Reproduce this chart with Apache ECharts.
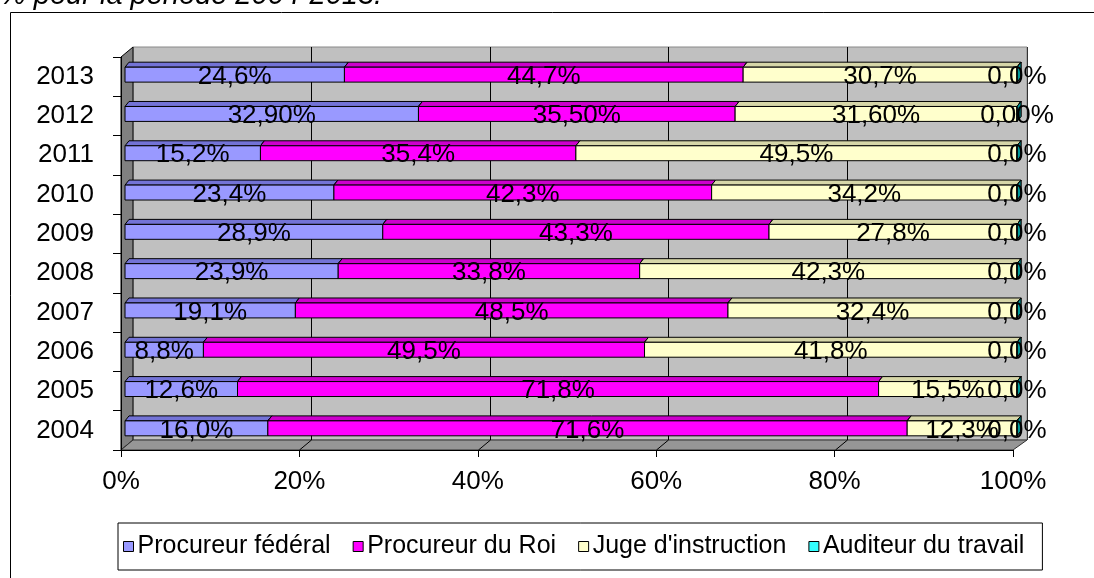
<!DOCTYPE html>
<html>
<head>
<meta charset="utf-8">
<script src="https://cdn.jsdelivr.net/npm/echarts@6/dist/echarts.min.js"></script>
<style>
html,body{margin:0;padding:0;background:#fff;}
#chart{width:1094px;height:578px;}
</style>
</head>
<body>
<div id="chart"></div>
<script>
const years = ['2004','2005','2006','2007','2008','2009','2010','2011','2012','2013'];
const procureurFederal = [16.0, 12.6, 8.8, 19.1, 23.9, 28.9, 23.4, 15.2, 32.90, 24.6];
const procureurDuRoi   = [71.6, 71.8, 49.5, 48.5, 33.8, 43.3, 42.3, 35.4, 35.50, 44.7];
const jugeInstruction  = [12.3, 15.5, 41.8, 32.4, 42.3, 27.8, 34.2, 49.5, 31.60, 30.7];
const auditeurTravail  = [0, 0, 0, 0, 0, 0, 0, 0, 0, 0];
const labelDecimals    = [1, 1, 1, 1, 1, 1, 1, 1, 2, 1];
const seriesNames = ['Procureur fédéral', 'Procureur du Roi', "Juge d'instruction", 'Auditeur du travail'];
const xTicks = [0, 20, 40, 60, 80, 100];
const titleText = '% pour la période 2004-2013.';

const FONT = "'Liberation Sans', Arial, sans-serif";
const palette = [
  {front: '#9999ff', top: '#7373d6', side: '#6666cc'},
  {front: '#ff00ff', top: '#cc00cc', side: '#aa00aa'},
  {front: '#ffffcc', top: '#d6d6a8', side: '#cccc99'},
  {front: '#33ffff', top: '#00b3b3', side: '#009999'}
];
const allValues = [procureurFederal, procureurDuRoi, jugeInstruction, auditeurTravail];

// 100% stacking
const totals = years.map((_, i) => allValues.reduce((s, arr) => s + arr[i], 0));
const stacked = [];
const cum = years.map(() => 0);
allValues.forEach((arr, si) => {
  stacked.push(years.map((_, i) => {
    const start = cum[i] / totals[i] * 100;
    cum[i] += arr[i];
    const end = cum[i] / totals[i] * 100;
    const lbl = arr[i].toFixed(labelDecimals[i]).replace('.', ',') + '%';
    return [i, start, end, lbl];
  }));
});

const DX = 12, DY = -10; // wall depth

function frameItem(params, api) {
  const cs = params.coordSys;
  const L = cs.x, T = cs.y, R = cs.x + cs.width, B = cs.y + cs.height;
  const children = [];
  children.push({type: 'polygon', shape: {points: [[L + DX, T + DY], [R + DX + 2, T + DY], [R + DX + 2, B + DY], [L + DX, B + DY]]},
    style: {fill: '#c0c0c0', stroke: '#888', lineWidth: 1}});
  children.push({type: 'line', shape: {x1: R + DX + 2.5, y1: T + DY, x2: R + DX + 2.5, y2: B + DY},
    style: {stroke: '#333', lineWidth: 1}});
  children.push({type: 'polygon', shape: {points: [[L, T], [L + DX, T + DY], [L + DX, B + DY], [L, B]]},
    style: {fill: '#808080', stroke: '#000', lineWidth: 1}});
  children.push({type: 'polygon', shape: {points: [[L, B], [L + DX, B + DY], [R + DX + 2, B + DY], [R, B]]},
    style: {fill: '#969696', stroke: '#333', lineWidth: 1}});
  xTicks.slice(1, -1).forEach(v => {
    const x = Math.round(api.coord([v, 0])[0]) + 0.5;
    children.push({type: 'polyline', shape: {points: [[x + DX, T + DY], [x + DX, B + DY], [x, B]]},
      style: {fill: null, stroke: '#000', lineWidth: 1}});
  });
  return {type: 'group', children};
}

function barItemFactory(si) {
  const c = palette[si];
  return function (params, api) {
    const cat = api.value(0), s = api.value(1), e = api.value(2);
    const lbl = stacked[si][params.dataIndex][3];
    const a = api.coord([s, cat]), b = api.coord([e, cat]);
    const band = api.size([0, 1])[1];
    const h = band * 0.38;
    const ox = 4, oy = -2, dx = 4, dy = -5;
    const x0 = a[0] + ox, x1 = b[0] + ox, yc = a[1] + oy;
    const top = yc - h / 2, bot = yc + h / 2;
    return {
      type: 'group',
      children: [
        {type: 'polygon', shape: {points: [[x0, top], [x0 + dx, top + dy], [x1 + dx, top + dy], [x1, top]]},
          style: {fill: c.top, stroke: '#000', lineWidth: 1}},
        {type: 'polygon', shape: {points: [[x1, top], [x1 + dx, top + dy], [x1 + dx, bot + dy], [x1, bot]]},
          style: {fill: c.side, stroke: '#000', lineWidth: 1}},
        {type: 'rect', shape: {x: x0, y: top, width: Math.max(0, x1 - x0), height: h},
          style: {fill: c.front, stroke: '#000', lineWidth: 1}},
        {type: 'text', z2: 100, style: {text: lbl, x: (x0 + x1) / 2, y: yc + 2, align: 'center', verticalAlign: 'middle',
          fontSize: 26, fontFamily: FONT, fill: '#000'}}
      ]
    };
  };
}

const chart = echarts.init(document.getElementById('chart'), null, {renderer: 'canvas'});
const series = [{
  type: 'custom', name: '__frame', z: 1, silent: true,
  renderItem: frameItem, data: [[0, 0]], encode: {x: 1, y: 0}
}];
seriesNames.forEach((name, si) => {
  series.push({
    type: 'custom', name, z: 2,
    itemStyle: {color: palette[si].front},
    renderItem: barItemFactory(si),
    data: stacked[si].map(d => [d[0], d[1], d[2]]),
    encode: {x: [1, 2], y: 0}
  });
});

chart.setOption({
  animation: false,
  backgroundColor: '#fff',
  textStyle: {fontFamily: FONT},
  grid: {left: 121, top: 57, width: 892, height: 393},
  xAxis: {
    type: 'value', min: 0, max: 100, interval: 20, z: 5,
    axisLine: {show: true, lineStyle: {color: '#000', width: 1}},
    axisTick: {show: true, length: 7, lineStyle: {color: '#000'}},
    splitLine: {show: false},
    axisLabel: {formatter: '{value}%', fontSize: 26, color: '#000', margin: 19, fontFamily: FONT}
  },
  yAxis: {
    type: 'category', data: years, z: 5,
    axisLine: {show: true, lineStyle: {color: '#000', width: 1}},
    axisTick: {show: true, length: 8, lineStyle: {color: '#000'}},
    splitLine: {show: false},
    axisLabel: {fontSize: 26, color: '#000', margin: 27, fontFamily: FONT, padding: [4, 0, 0, 0]}
  },
  legend: {
    left: 118, top: 523,
    orient: 'horizontal',
    backgroundColor: '#fff', borderColor: '#000', borderWidth: 1,
    padding: [11, 18, 11, 5],
    itemWidth: 10, itemHeight: 10, itemGap: 22,
    textStyle: {fontSize: 25, color: '#000', fontFamily: FONT, padding: [0, 0, 0, -1]},
    data: seriesNames.map((n, si) => ({name: n, icon: 'rect',
      itemStyle: {color: palette[si].front, borderColor: '#000', borderWidth: 1}}))
  },
  graphic: [
    {type: 'rect', silent: true, shape: {x: 10.5, y: 12.5, width: 2000, height: 2000},
      style: {fill: null, stroke: '#000', lineWidth: 1}, z: 0},
    {type: 'text', silent: true, style: {text: titleText, x: 0, y: 10, verticalAlign: 'bottom',
      fontSize: 29, fontStyle: 'italic', fontFamily: FONT, fill: '#000'}}
  ],
  series
});
</script>
</body>
</html>
